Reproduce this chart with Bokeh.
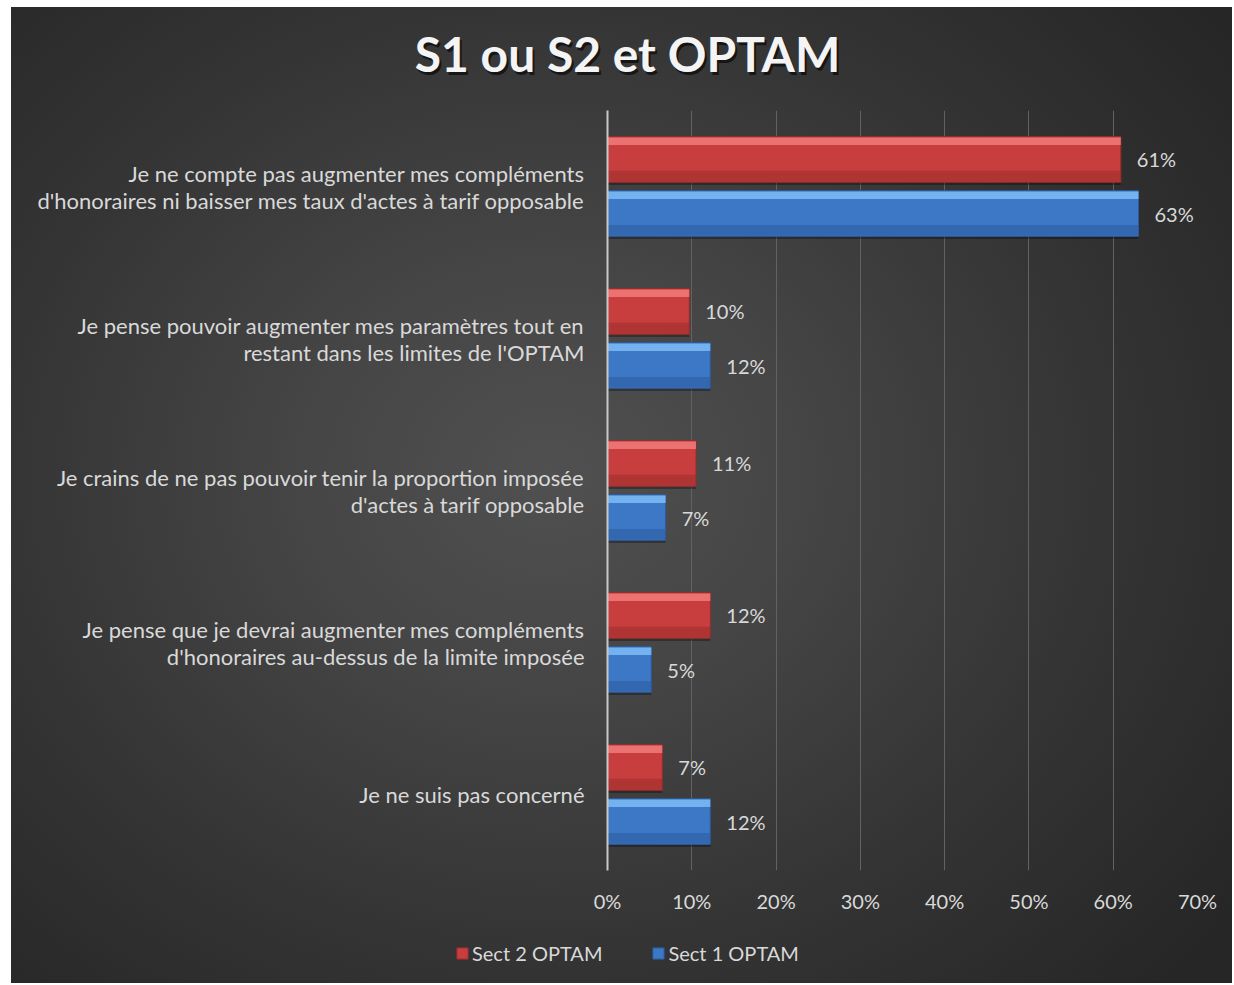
import math
from bokeh.plotting import figure
from bokeh.layouts import column
from bokeh.models import (ColumnDataSource, FactorRange, Range1d, Legend, LegendItem,
                          Label, NumeralTickFormatter, FixedTicker)
from bokeh.transform import dodge
from bokeh.core.properties import value
from bokeh.embed import file_html
from bokeh.resources import INLINE

# ---------------- data ----------------
categories = [
    "Je ne compte pas augmenter mes compléments\nd'honoraires ni baisser mes taux d'actes à tarif opposable",
    "Je pense pouvoir augmenter mes paramètres tout en\nrestant dans les limites de l'OPTAM",
    "Je crains de ne pas pouvoir tenir la proportion imposée\nd'actes à tarif opposable",
    "Je pense que je devrai augmenter mes compléments\nd'honoraires au-dessus de la limite imposée",
    "Je ne suis pas concerné",
]
sect2 = [0.609, 0.097, 0.105, 0.122, 0.065]
sect1 = [0.630, 0.122, 0.069, 0.052, 0.122]
series_names = ["Sect 2 OPTAM", "Sect 1 OPTAM"]
x_ticks = [0.0, 0.1, 0.2, 0.3, 0.4, 0.5, 0.6, 0.7]
title_text = "S1 ou S2 et OPTAM"

FONT = "Lato"
TXT = "#d9d9d9"
W = 1221


def pct(v):
    return "%d%%" % math.floor(v * 100 + 0.5)


def bare(fig):
    fig.border_fill_alpha = 0
    fig.background_fill_alpha = 0
    fig.outline_line_color = None
    return fig


src = ColumnDataSource(dict(
    cat=categories,
    s2=sect2,
    s1=sect1,
    l2=[pct(v) for v in sect2],
    l1=[pct(v) for v in sect1],
))

# ---------------- title strip ----------------
tf = bare(figure(width=W, height=103, x_axis_type=None, y_axis_type=None,
                 min_border=0, output_backend="svg", toolbar_location=None))
tf.xgrid.grid_line_color = None
tf.ygrid.grid_line_color = None
tf.add_layout(Label(x=618, y=54, x_units="screen", y_units="screen", text=title_text,
                    text_align="center", text_baseline="middle", text_font=FONT,
                    text_font_size="48px", text_font_style="bold",
                    text_color="#000000", text_alpha=0.6))
tf.add_layout(Label(x=616, y=57, x_units="screen", y_units="screen", text=title_text,
                    text_align="center", text_baseline="middle", text_font=FONT,
                    text_font_size="48px", text_font_style="bold", text_color="#f4f4f4"))

# ---------------- main chart ----------------
p = bare(figure(
    y_range=FactorRange(factors=list(reversed(categories)), range_padding=0),
    x_range=Range1d(0, 0.7),
    frame_width=590, frame_height=760,
    min_border_left=596, min_border_right=35,
    min_border_top=0, min_border_bottom=48,
    output_backend="svg", toolbar_location=None,
))

BH = 0.30
OFF = 0.178

series = [
    ("s2", "l2", OFF, "#c83e3e", "#f27a7a", "#9a2c2c"),
    ("s1", "l1", -OFF, "#3c78c6", "#7cbcf6", "#2b5a9c"),
]
for col, lab, off, mid, hi, lo in series:
    # soft shadow
    p.hbar(y=dodge("cat", off - 0.018, range=p.y_range), right=col, left=0, height=BH,
           source=src, fill_color="#000000", fill_alpha=0.30, line_color=None)
    p.hbar(y=dodge("cat", off, range=p.y_range), right=col, left=0, height=BH,
           source=src, fill_color=mid, line_color=lo, line_width=1)
    # top highlight bevel
    p.hbar(y=dodge("cat", off + BH / 2 - 0.03, range=p.y_range), right=col, left=0, height=0.05,
           source=src, fill_color=hi, fill_alpha=0.85, line_color=None)
    # bottom darker bevel
    p.hbar(y=dodge("cat", off - BH / 2 + 0.04, range=p.y_range), right=col, left=0, height=0.07,
           source=src, fill_color=lo, fill_alpha=0.55, line_color=None)
    # value labels
    p.text(x=col, y=dodge("cat", off, range=p.y_range), text=lab, source=src,
           x_offset=16, text_baseline="middle", text_align="left",
           text_color=TXT, text_font=value(FONT), text_font_size="20px")

p.xaxis.ticker = FixedTicker(ticks=x_ticks)
p.xaxis.formatter = NumeralTickFormatter(format="0%")
p.xaxis.axis_line_color = None
p.xaxis.major_tick_line_color = None
p.xaxis.minor_tick_line_color = None
p.xaxis.major_label_text_color = TXT
p.xaxis.major_label_text_font = FONT
p.xaxis.major_label_text_font_size = "20px"
p.xaxis.major_label_standoff = 12

p.yaxis.axis_line_color = "#c8c8c8"
p.yaxis.axis_line_width = 2
p.yaxis.major_tick_line_color = None
p.yaxis.minor_tick_line_color = None
p.yaxis.major_label_text_color = TXT
p.yaxis.major_label_text_font = FONT
p.yaxis.major_label_text_font_size = "22px"
p.yaxis.major_label_text_line_height = 1.0
p.yaxis.major_label_standoff = 17

p.xgrid.grid_line_color = "#626262"
p.xgrid.grid_line_width = 1
p.ygrid.grid_line_color = None

# ---------------- legend strip ----------------
lf = bare(figure(width=W, height=65, x_axis_type=None, y_axis_type=None,
                 y_range=FactorRange(factors=categories), x_range=Range1d(0, 0.7),
                 min_border=0, output_backend="svg", toolbar_location=None))
lf.xgrid.grid_line_color = None
lf.ygrid.grid_line_color = None
leg_items = []
for name, (col, lab, off, mid, hi, lo) in zip(series_names, series):
    r = lf.hbar(y="cat", right=col, left=0, height=BH, source=src,
                fill_color=mid, line_color=lo, line_width=1, visible=False)
    leg_items.append(LegendItem(label=name, renderers=[r]))
legend = Legend(items=leg_items, orientation="horizontal", location=(444, 18),
                glyph_width=14, glyph_height=14, label_standoff=3, spacing=49,
                padding=0, margin=0, border_line_color=None, background_fill_alpha=0,
                inactive_fill_alpha=0,
                label_text_color=TXT, label_text_font=FONT, label_text_font_size="20px")
lf.add_layout(legend, "center")

layout = column(column(tf), p, column(lf), spacing=0)
layout.styles = {
    "background": "radial-gradient(ellipse 70% 75% at 44% 48%, #505050 0%, #454545 30%, #343434 65%, #262626 100%)",
    "margin-left": "11px",
    "margin-top": "7px",
}

open("out.html", "w").write(file_html(layout, INLINE))
